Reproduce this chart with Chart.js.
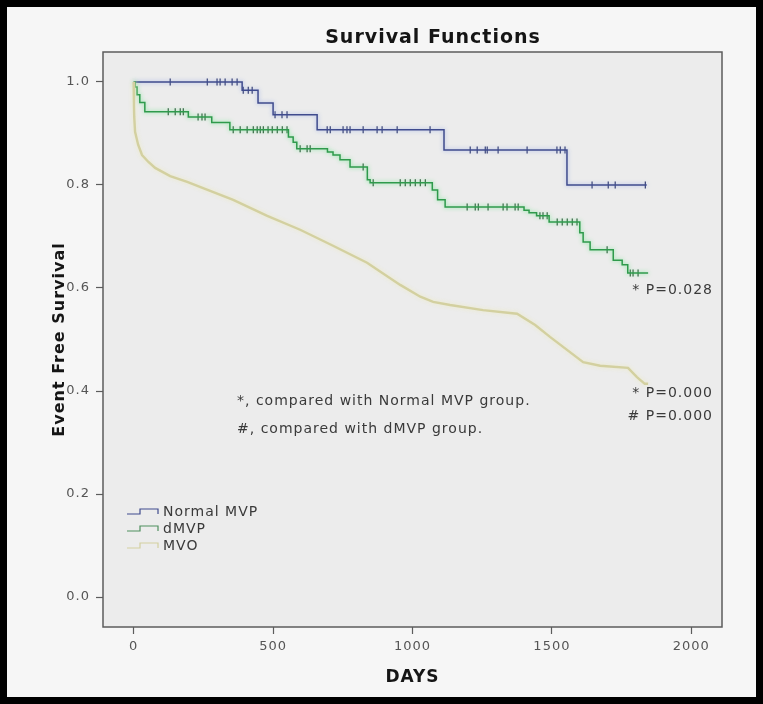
<!DOCTYPE html>
<html>
<head>
<meta charset="utf-8">
<title>Survival Functions</title>
<script src="https://cdn.jsdelivr.net/npm/chart.js@4/dist/chart.umd.min.js"></script>
<style>
  html, body { margin: 0; padding: 0; background: #000; }
  canvas { display: block; }
</style>
</head>
<body>
<canvas id="km" width="763" height="704"></canvas>
<script>
// Kaplan-Meier steps: day of each event and survival right after it
const normalDays = [0, 389, 446, 500, 658, 1113, 1554, 1840];
const normalSurv = [1.0, 0.984, 0.959, 0.936, 0.907, 0.868, 0.800, 0.800];
const normalCensored = [131, 264, 299, 310, 328, 353, 371, 393, 411, 425, 507, 532, 550,
  694, 705, 751, 765, 776, 823, 873, 891, 945, 1063, 1207, 1232, 1261, 1268, 1307, 1411,
  1518, 1530, 1547, 1644, 1702, 1727, 1835];

const dmvpDays = [0, 5, 12, 22, 40, 196, 280, 345, 555, 572, 585, 695, 715, 740, 776, 838, 848,
  1071, 1090, 1117, 1400, 1418, 1445, 1490, 1600, 1612, 1637, 1720, 1752, 1772, 1845];
const dmvpSurv = [1.0, 0.99, 0.975, 0.96, 0.942, 0.932, 0.921, 0.907, 0.893, 0.883, 0.870, 0.864,
  0.858, 0.849, 0.835, 0.810, 0.804, 0.790, 0.771, 0.757, 0.751, 0.746, 0.740, 0.728, 0.707,
  0.689, 0.674, 0.654, 0.645, 0.629, 0.629];
const dmvpCensored = [124, 149, 167, 178, 231, 245, 256, 357, 382, 407, 429, 443, 454, 465, 482,
  497, 515, 533, 550, 597, 622, 633, 823, 859, 956, 974, 992, 1010, 1028, 1046, 1196, 1225,
  1236, 1271, 1325, 1339, 1368, 1379, 1457, 1468, 1483, 1519, 1537, 1555, 1573, 1590, 1698,
  1781, 1791, 1809];

// MVO group is large, its steps are tiny so the curve is traced point to point
const mvoDays = [0, 1, 2, 5, 16, 30, 52, 77, 131, 192, 249, 357, 479, 597, 658, 715, 837, 956,
  1028, 1074, 1135, 1253, 1375, 1440, 1493, 1612, 1673, 1773, 1805, 1833, 1845];
const mvoSurv = [1.0, 0.955, 0.932, 0.903, 0.878, 0.858, 0.845, 0.833, 0.817, 0.806, 0.794,
  0.771, 0.740, 0.713, 0.697, 0.682, 0.649, 0.606, 0.583, 0.573, 0.567, 0.557, 0.550, 0.528,
  0.505, 0.456, 0.449, 0.445, 0.427, 0.414, 0.414];

const xTicks = [0, 500, 1000, 1500, 2000];
const yTicks = [0.0, 0.2, 0.4, 0.6, 0.8, 1.0];

const groupNames = ['Normal MVP', 'dMVP', 'MVO'];
const pValueNotes = ['* P=0.028', '* P=0.000', '# P=0.000'];
const footNotes = ['*, compared with Normal MVP group.', '#, compared with dMVP group.'];

const toPoints = (days, surv) => days.map((d, i) => ({ x: d, y: surv[i] }));

// survival value of a step curve at day t
function survAt(days, surv, t) {
    let s = surv[0];
    for (let i = 0; i < days.length; i++) {
        if (days[i] <= t) s = surv[i];
    }
    return s;
}
const censorPoints = (days, surv, cens) => cens.map(t => ({ x: t, y: survAt(days, surv, t) }));

const lineColors = { normal: '#3f4b8d', dmvp: '#2f9a4c', mvo: '#d3d0a0' };

const FONT = '"DejaVu Sans", Verdana, sans-serif';

// backgrounds, frame, legend and notes
const decor = {
    id: 'decor',
    beforeDraw(chart) {
        const ctx = chart.ctx;
        const a = chart.chartArea;
        ctx.fillStyle = '#000';
        ctx.fillRect(0, 0, chart.width, chart.height);
        ctx.fillStyle = '#f6f6f6';
        ctx.fillRect(7, 7, chart.width - 14, chart.height - 14);
        ctx.fillStyle = '#ececec';
        ctx.fillRect(a.left, a.top, a.right - a.left, a.bottom - a.top);
        ctx.letterSpacing = '1px';
    },
    beforeDatasetDraw(chart, args) {
        const ds = chart.data.datasets[args.index];
        if (ds.glow) {
            chart.ctx.save();
            chart.ctx.shadowColor = ds.glow;
            chart.ctx.shadowBlur = 4;
        }
    },
    afterDatasetDraw(chart, args) {
        if (chart.data.datasets[args.index].glow) chart.ctx.restore();
    },
    afterDraw(chart) {
        const ctx = chart.ctx;
        const a = chart.chartArea;
        ctx.save();
        ctx.letterSpacing = '1px';

        // plot frame
        ctx.strokeStyle = '#5c5c5c';
        ctx.lineWidth = 1.5;
        ctx.strokeRect(a.left, a.top, a.right - a.left, a.bottom - a.top);

        // title and axis titles
        ctx.fillStyle = '#151515';
        ctx.textBaseline = 'middle';
        ctx.textAlign = 'center';
        ctx.font = 'bold 19px ' + FONT;
        ctx.fillText('Survival Functions', 433, 38);
        ctx.font = 'bold 17px ' + FONT;
        ctx.fillText('DAYS', (a.left + a.right) / 2, 678);
        ctx.save();
        ctx.translate(60, (a.top + a.bottom) / 2);
        ctx.rotate(-Math.PI / 2);
        ctx.font = 'bold 16px ' + FONT;
        ctx.fillText('Event Free Survival', 0, 0);
        ctx.restore();

        // notes inside the plot
        ctx.fillStyle = '#3a3a3a';
        ctx.font = '14px ' + FONT;
        ctx.textAlign = 'left';
        ctx.fillText(footNotes[0], 237, 401);
        ctx.fillText(footNotes[1], 237, 429);
        ctx.textAlign = 'right';
        ctx.fillText(pValueNotes[0], 713, 290);
        ctx.fillText(pValueNotes[1], 713, 393);
        ctx.fillText(pValueNotes[2], 713, 416);

        // legend with step symbols
        const legendColors = [lineColors.normal, '#4f8f5e', lineColors.mvo];
        ctx.textAlign = 'left';
        groupNames.forEach((name, i) => {
            const y = 512 + i * 17;
            ctx.strokeStyle = legendColors[i];
            ctx.lineWidth = 1.2;
            ctx.beginPath();
            ctx.moveTo(127, y + 2);
            ctx.lineTo(140, y + 2);
            ctx.lineTo(140, y - 3);
            ctx.lineTo(158, y - 3);
            ctx.lineTo(158, y + 2);
            ctx.stroke();
            ctx.fillStyle = '#3a3a3a';
            ctx.fillText(name, 163, y);
        });
        ctx.restore();
    }
};

new Chart(document.getElementById('km'), {
    type: 'line',
    data: {
        datasets: [
            { label: groupNames[2], data: toPoints(mvoDays, mvoSurv), borderColor: lineColors.mvo,
              borderWidth: 2.4, pointRadius: 0, fill: false, tension: 0, glow: 'rgba(236,234,190,0.9)' },
            { label: groupNames[1], data: toPoints(dmvpDays, dmvpSurv), borderColor: lineColors.dmvp,
              borderWidth: 1.5, pointRadius: 0, fill: false, stepped: true, glow: 'rgba(110,230,140,0.9)' },
            { label: groupNames[1] + ' censored', data: censorPoints(dmvpDays, dmvpSurv, dmvpCensored),
              showLine: false, pointStyle: 'line', rotation: 90, pointRadius: 3.5,
              pointBorderColor: '#2c5538', pointBorderWidth: 1.2 },
            { label: groupNames[0], data: toPoints(normalDays, normalSurv), borderColor: lineColors.normal,
              borderWidth: 1.5, pointRadius: 0, fill: false, stepped: true, glow: 'rgba(140,160,230,0.8)' },
            { label: groupNames[0] + ' censored', data: censorPoints(normalDays, normalSurv, normalCensored),
              showLine: false, pointStyle: 'line', rotation: 90, pointRadius: 3.5,
              pointBorderColor: '#2d3668', pointBorderWidth: 1.2 }
        ]
    },
    options: {
        responsive: false,
        animation: false,
        events: [],
        layout: { padding: { top: 52, right: 41, left: 0, bottom: 0 } },
        plugins: { legend: { display: false }, tooltip: { enabled: false } },
        scales: {
            x: {
                type: 'linear',
                min: -110,
                max: 2110,
                afterBuildTicks: s => { s.ticks = xTicks.map(v => ({ value: v })); },
                afterFit: s => { s.height = 77; },
                grid: { drawOnChartArea: false, drawTicks: true, tickLength: 7, tickColor: '#5c5c5c', tickWidth: 1.2 },
                border: { display: false },
                ticks: { color: '#555', padding: 5, font: { family: FONT, size: 13 }, callback: v => String(v) }
            },
            y: {
                type: 'linear',
                min: -0.058,
                max: 1.058,
                afterBuildTicks: s => { s.ticks = yTicks.map(v => ({ value: v })); },
                afterFit: s => { s.width = 103; },
                grid: { drawOnChartArea: false, drawTicks: true, tickLength: 7, tickColor: '#5c5c5c', tickWidth: 1.2 },
                border: { display: false },
                ticks: { color: '#555', padding: 6, font: { family: FONT, size: 13 }, callback: v => v.toFixed(1) }
            }
        }
    },
    plugins: [decor]
});
</script>
</body>
</html>
